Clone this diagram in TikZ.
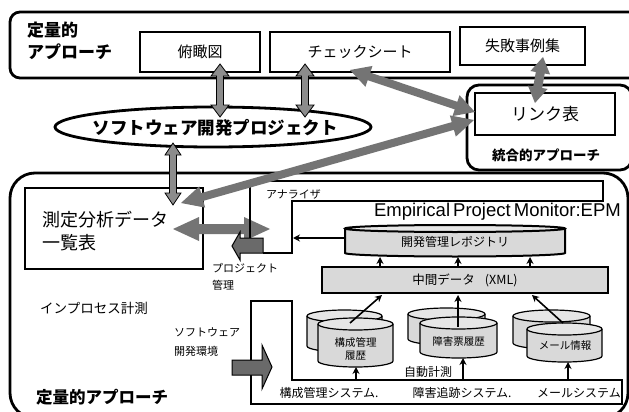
\documentclass[tikz,border=0pt]{standalone}
\usepackage{fontspec}
\setmainfont{Liberation Sans}
\newfontfamily\jp{Noto Sans CJK JP}
\usetikzlibrary{calc,arrows.meta}
\definecolor{arrgray}{HTML}{747474}
\definecolor{vgray}{HTML}{8C8C8C}
\definecolor{blkgray}{HTML}{6A6A6A}
\definecolor{cylgray}{HTML}{D9D9D9}
\definecolor{capgray}{HTML}{E6E6E6}
\newcommand\fsz[2]{\fontsize{#1}{#2}\selectfont}
% double block arrow: style, A, B, head length, head half width, shaft half width
\newcommand\dblarr[6]{%
 \path[#1] (#2) -- ($(#2)!#4!(#3)!#5!90:(#3)$) -- ($(#2)!#4!(#3)!#6!90:(#3)$)
  -- ($(#3)!#4!(#2)!#6!-90:(#2)$) -- ($(#3)!#4!(#2)!#5!-90:(#2)$) -- (#3)
  -- ($(#3)!#4!(#2)!#5!90:(#2)$) -- ($(#3)!#4!(#2)!#6!90:(#2)$)
  -- ($(#2)!#4!(#3)!#6!-90:(#3)$) -- ($(#2)!#4!(#3)!#5!-90:(#3)$) -- cycle;}
% cylinder: line width, fill, cx, rx, ytop, ybot, e
\newcommand\cyl[7]{%
 \fill[#2] ({#3-#4},#5) rectangle ({#3+#4},#6);
 \fill[#2] (#3,#6) ellipse[x radius=#4pt, y radius=#7pt];
 \draw[line width=#1] ({#3-#4},#5) -- ({#3-#4},#6) arc[start angle=180, end angle=360, x radius=#4pt, y radius=#7pt] -- ({#3+#4},#5);
 \draw[line width=#1, fill=capgray] (#3,#5) ellipse[x radius=#4pt, y radius=#7pt];}
\begin{document}
\begin{tikzpicture}[x=1pt,y=-1pt,
  frame/.style={draw=black, line width=2.8pt},
  box/.style={draw=black, line width=2pt, fill=white, inner sep=0pt},
  txt/.style={inner sep=0pt, font=\jp},
  varr/.style={fill=vgray, draw=black, line width=0.8pt},
  garr/.style={fill=arrgray},
  blk/.style={fill=blkgray, draw=black, line width=1pt},
  thin arrow/.style={line width=1.6pt, -{Stealth[length=7pt,width=7pt]}}]
\useasboundingbox (0,0) rectangle (629,412);
\clip (0,0) rectangle (629,412);
\fill[white] (0,0) rectangle (629,412);

% ---------- top frame ----------
\draw[frame, rounded corners=10pt] (10,12) rectangle (645,78);
\node[txt, font=\jp\bfseries\fsz{17}{22}, align=left, anchor=west] (qa1) at (27,41) {定量的\\アプローチ};
\node[box, minimum width=120pt, minimum height=40pt, font=\jp\fsz{15}{18}] (fukan) at (200,52) {俯瞰図};
\node[box, minimum width=180pt, minimum height=40pt, font=\jp\fsz{15}{18}] (check) at (360,52) {チェックシート};
\node[box, minimum width=125pt, minimum height=38pt, font=\jp\fsz{15}{18}] (shippai) at (522.5,46) {失敗事例集};

% ---------- link box ----------
\draw[frame, rounded corners=12pt, fill=white] (467,85) rectangle (632,170);
\node[box, minimum width=140pt, minimum height=42pt, font=\jp\fsz{17}{20}] (link) at (545,114) {リンク表};
\node[txt, font=\jp\bfseries\fsz{13.5}{16}] (togo) at (546,155) {統合的アプローチ};

% ---------- project ellipse ----------
\draw[line width=2.8pt, fill=white] (213,127) ellipse[x radius=158pt, y radius=20pt];
\node[txt, font=\jp\bfseries\fsz{17.5}{20}] (proj) at (215,128) {ソフトウェア開発プロジェクト};

% ---------- bottom frame ----------
\draw[frame, rounded corners=25pt] (10,173) rectangle (628,418);
\node[txt, font=\jp\bfseries\fsz{16.5}{20}, anchor=west] (qa2) at (36,397) {定量的アプローチ};

% measurement table
\node[draw=black, line width=2.5pt, fill=white, minimum width=178pt, minimum height=81pt, inner sep=0pt] (sokutei) at (114,228.5) {};
\node[txt, font=\jp\fsz{18}{23}, align=left, anchor=west] (sokuteitxt) at (42,231) {測定分析データ\\一覧表};

% arrow table <-> analyzer (under the frame)
\coordinate (a7s) at (173,229);
\coordinate (a7e) at (270,229);
\dblarr{garr}{a7s}{a7e}{26pt}{12pt}{5pt}

% analyzer frame
\draw[line width=2pt] (250,238) -- (250,181) -- (603,181) -- (603,201) -- (292,201) -- (292,253) -- (263,253);
\node[txt, font=\jp\fsz{11}{13}, anchor=west] (analyzer) at (266,194) {アナライザ};
\node[txt, font=\fsz{18.5}{20}, anchor=east] (epm) at (621,212) {Empirical\,Project\,Monitor:EPM};

% project management block arrow
\draw[blk] (232,246) -- (240,232) -- (240,238) -- (263,238) -- (263,253) -- (240,253) -- (240,260) -- cycle;
\node[txt, font=\jp\fsz{11}{17}, align=left, anchor=north west] (pm) at (212,263) {プロジェクト\\管理};

% repository
\cyl{2pt}{cylgray}{455}{110}{228.5}{253}{3.5}
\node[txt, font=\jp\fsz{12}{14}] (repo) at (455,242) {開発管理レポジトリ};
\coordinate (repoL) at (345,238);
\coordinate (anaR) at (293,238);
\draw[thin arrow] (repoL) -- (anaR);

% intermediate data
\node[draw=black, line width=2pt, fill=cylgray, minimum width=286pt, minimum height=26pt, inner sep=0pt, font=\jp\fsz{12.5}{14}] (xml) at (465,280) {中間データ\hspace{0.8em}(XML)};
\foreach \xx/\nm in {380/r1,458/r2,530/r3}{
  \coordinate (\nm b) at (\xx,267);
  \coordinate (\nm t) at (\xx,257);
  \draw[thin arrow] (\nm b) -- (\nm t);}

% cylinders
\cyl{1.2pt}{cylgray}{344.5}{37.5}{316}{346}{6}
\cyl{1.2pt}{cylgray}{355.5}{37.5}{324}{361}{6}
\cyl{1.2pt}{cylgray}{446.5}{38.5}{314}{339}{6}
\cyl{1.2pt}{cylgray}{458.5}{38.5}{323}{352}{6}
\cyl{1.2pt}{cylgray}{551.5}{38.5}{316}{343}{6}
\cyl{1.2pt}{cylgray}{564.5}{37.5}{329}{356}{6}
\node[txt, font=\jp\fsz{10.5}{13.5}, align=center] (c1) at (355.5,349) {構成管理\\履歴};
\node[txt, font=\jp\fsz{10.5}{13}] (c2) at (458.5,342) {障害票履歴};
\node[txt, font=\jp\fsz{10.5}{13}] (c3) at (565,346) {メール情報};
\coordinate (c1s) at (350,323); \coordinate (c1e) at (382,295);
\coordinate (c2s) at (458,327); \coordinate (c2e) at (458,295);
\coordinate (c3s) at (563,323); \coordinate (c3e) at (532,295);
\draw[thin arrow] (c1s) -- (c1e);
\draw[thin arrow] (c2s) -- (c2e);
\draw[thin arrow] (c3s) -- (c3e);

% system frame
\draw[line width=2pt] (251,301) -- (292,301) -- (292,380) -- (622,380) -- (622,404) -- (251,404) -- cycle;
\node[txt, font=\jp\fsz{12}{14}] (s1) at (329,393) {構成管理システム.};
\node[txt, font=\jp\fsz{12}{14}] (s2) at (462,393) {障害追跡システム.};
\node[txt, font=\jp\fsz{12}{14}] (s3) at (579,393) {メールシステム};
\node[txt, font=\jp\fsz{12}{14}, anchor=west] (auto) at (404,372) {自動計測};
\foreach \xx/\yy/\nm in {356/367/u1,463/358/u2,568/362/u3}{
  \coordinate (\nm b) at (\xx,380);
  \coordinate (\nm t) at (\xx,\yy);
  \draw[thin arrow] (\nm b) -- (\nm t);}

% dev environment block arrow
\draw[blk] (232,360) -- (262,360) -- (262,345) -- (272,367) -- (262,389) -- (262,375) -- (232,375) -- cycle;
\node[txt, font=\jp\fsz{11}{19}, align=left, anchor=west] (devenv) at (174,342) {ソフトウェア\\開発環境};
\node[txt, font=\jp\fsz{13.5}{16}, anchor=west] (inproc) at (40,308) {インプロセス計測};

% ---------- big gray arrows ----------
\coordinate (a1s) at (220,64);  \coordinate (a1e) at (220,117);
\coordinate (a2s) at (305,64);  \coordinate (a2e) at (305,117);
\coordinate (a3s) at (173,143); \coordinate (a3e) at (173,205);
\coordinate (a4s) at (350,70);  \coordinate (a4e) at (475,112);
\coordinate (a5s) at (543,57);  \coordinate (a5e) at (535,103);
\coordinate (a6s) at (181,203); \coordinate (a6e) at (474,120);
\dblarr{varr}{a1s}{a1e}{12pt}{9pt}{3.5pt}
\dblarr{varr}{a2s}{a2e}{12pt}{9pt}{3.5pt}
\dblarr{varr}{a3s}{a3e}{12pt}{8pt}{3.5pt}
\dblarr{garr}{a4s}{a4e}{20pt}{11pt}{4pt}
\dblarr{garr}{a5s}{a5e}{16pt}{10pt}{4.5pt}
\dblarr{garr}{a6s}{a6e}{22pt}{11pt}{4pt}
\end{tikzpicture}
\end{document}
